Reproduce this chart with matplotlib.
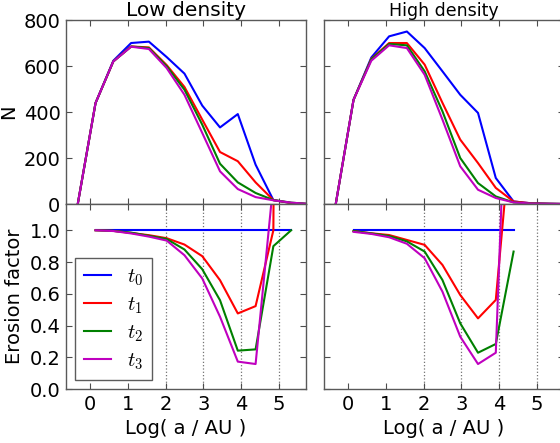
import numpy as np
import matplotlib
matplotlib.use("Agg")
import matplotlib.pyplot as plt

plt.rcParams['font.family'] = ['DejaVu Sans']
plt.rcParams['mathtext.fontset'] = 'cm'
plt.rcParams['font.size'] = 14

nan = np.nan

# log10 semi-major axis bins
log_a = [-0.32, 0.15, 0.62, 1.09, 1.56, 2.03, 2.50, 2.97, 3.44, 3.91, 4.38, 4.85, 5.32, 5.79]

# number of objects, low density
N_low_t0 = [0, 439, 623, 700, 706, 639, 567, 428, 333, 391, 171, 17, 4, 0]
N_low_t1 = [0, 439, 620, 685, 681, 604, 509, 367, 226, 186, 94, 17, 4, 0]
N_low_t2 = [0, 439, 620, 685, 678, 599, 497, 345, 175, 94, 48, 17, 6, 0]
N_low_t3 = [0, 439, 620, 684, 674, 591, 475, 309, 142, 65, 30, 16, 6, 0]

# number of objects, high density
N_high_t0 = [0, 453, 637, 729, 750, 678, 577, 475, 396, 113, 11, 3, 1, 0]
N_high_t1 = [0, 453, 631, 700, 700, 606, 440, 280, 178, 70, 11, 3, 1, 0]
N_high_t2 = [0, 453, 629, 696, 690, 577, 403, 200, 91, 33, 7, 2, 1, 0]
N_high_t3 = [0, 453, 623, 690, 678, 562, 367, 164, 62, 26, 7, 2, 1, 0]

# erosion factor N(t)/N(t0)
E_low_t0 = [nan, 1, 1, 1, 1, 1, 1, 1, 1, 1, 1, 1, 1, nan]
E_low_t1 = [nan, 1.0, 0.996, 0.983, 0.969, 0.95, 0.91, 0.837, 0.686, 0.477, 0.523, 1.0, 20, nan]
E_low_t2 = [nan, 1.0, 0.996, 0.985, 0.965, 0.945, 0.879, 0.755, 0.56, 0.243, 0.251, 0.9, 1.0, nan]
E_low_t3 = [nan, 1.0, 0.995, 0.98, 0.96, 0.935, 0.843, 0.697, 0.456, 0.174, 0.159, 1.3, 5, nan]

E_high_t0 = [nan, 1, 1, 1, 1, 1, 1, 1, 1, 1, 1, nan, nan, nan]
E_high_t1 = [nan, 0.995, 0.981, 0.97, 0.939, 0.908, 0.782, 0.593, 0.446, 0.562, 1.8, nan, nan, nan]
E_high_t2 = [nan, 0.995, 0.98, 0.964, 0.93, 0.866, 0.687, 0.415, 0.23, 0.285, 0.866, nan, nan, nan]
E_high_t3 = [nan, 0.99, 0.977, 0.956, 0.915, 0.824, 0.614, 0.331, 0.159, 0.23, 3.2, nan, nan, nan]

labels = [r'$t_0$', r'$t_1$', r'$t_2$', r'$t_3$']
colors = ['b', 'r', 'g', 'm']
vlines = [2, 3, 4, 5]

fig = plt.figure(figsize=(5.6, 4.43), dpi=100)
w = 0.4277
ax_tl = fig.add_axes([0.1179, 0.5395, w, 0.4153])
ax_tr = fig.add_axes([0.5786, 0.5395, w, 0.4153])
ax_bl = fig.add_axes([0.1179, 0.1212, w, 0.4183])
ax_br = fig.add_axes([0.5786, 0.1212, w, 0.4183])

tops = [(ax_tl, [N_low_t0, N_low_t1, N_low_t2, N_low_t3]),
        (ax_tr, [N_high_t0, N_high_t1, N_high_t2, N_high_t3])]
bots = [(ax_bl, [E_low_t0, E_low_t1, E_low_t2, E_low_t3]),
        (ax_br, [E_high_t0, E_high_t1, E_high_t2, E_high_t3])]

for ax, series in tops:
    for s, c in zip(series, colors):
        ax.plot(log_a, s, color=c, lw=1.5)
    ax.set_ylim(0, 800)
    ax.set_yticks([0, 200, 400, 600, 800])
    ax.set_xticklabels([])

for ax, series in bots:
    for xv in vlines:
        ax.axvline(xv, color='0.45', ls=':', lw=0.9, zorder=0)
    for s, c, lab in zip(series, colors, labels):
        ax.plot(log_a, s, color=c, lw=1.5, label=lab)
    ax.set_ylim(0, 1.165)
    ax.set_yticks([0.0, 0.2, 0.4, 0.6, 0.8, 1.0])
    ax.set_xlabel('Log( a / AU )')

for ax in [ax_tl, ax_tr, ax_bl, ax_br]:
    ax.set_xlim(-0.63, 5.7)
    ax.set_xticks([0, 1, 2, 3, 4, 5])
    ax.tick_params(direction='in', top=True, right=True, length=4, width=0.8,
                   color='0.3', pad=4)
    for sp in ax.spines.values():
        sp.set_color('0.35')
        sp.set_linewidth(1.0)

ax_tr.set_yticklabels([])
ax_br.set_yticklabels([])

ax_tl.set_ylabel('N')
ax_bl.set_ylabel('Erosion factor')
ax_tl.set_title('Low density', fontsize=14.5, pad=2)
ax_tr.set_title('High density', fontsize=12.5, pad=3)

leg = ax_bl.legend(loc='lower left', fontsize=15, handlelength=1.3,
                   handletextpad=0.8, labelspacing=0.3, fancybox=False,
                   borderpad=0.4, borderaxespad=0.45)
leg.get_frame().set_edgecolor('0.2')
leg.get_frame().set_linewidth(1.0)

fig.savefig('out.png', dpi=100)
